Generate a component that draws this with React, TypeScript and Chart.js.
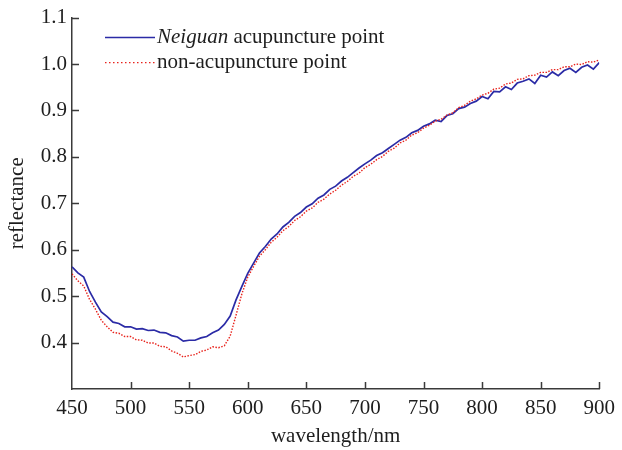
import React, { useEffect, useRef } from "react";
import { Chart, registerables } from "chart.js";

Chart.register(...registerables);

const wavelengths = [
  450, 455, 460, 465, 470, 475, 480, 485, 490, 495, 500, 505, 510, 515, 520, 525, 530, 535, 540, 545,
  550, 555, 560, 565, 570, 575, 580, 585, 590, 595, 600, 605, 610, 615, 620, 625, 630, 635, 640, 645,
  650, 655, 660, 665, 670, 675, 680, 685, 690, 695, 700, 705, 710, 715, 720, 725, 730, 735, 740, 745,
  750, 755, 760, 765, 770, 775, 780, 785, 790, 795, 800, 805, 810, 815, 820, 825, 830, 835, 840, 845,
  850, 855, 860, 865, 870, 875, 880, 885, 890, 895, 900,
];

const neiguan = [
  0.563, 0.55, 0.541, 0.51, 0.487, 0.466, 0.456, 0.444, 0.441, 0.434, 0.434, 0.429, 0.43, 0.426, 0.427, 0.422, 0.421, 0.415, 0.412, 0.403,
  0.405, 0.405, 0.41, 0.413, 0.421, 0.427, 0.439, 0.457, 0.492, 0.521, 0.549, 0.571, 0.593, 0.607, 0.623, 0.634, 0.649, 0.659, 0.672, 0.68,
  0.692, 0.699, 0.711, 0.718, 0.73, 0.737, 0.748, 0.756, 0.766, 0.776, 0.785, 0.793, 0.803, 0.809, 0.818, 0.827, 0.836, 0.842, 0.852, 0.857,
  0.866, 0.871, 0.879, 0.876, 0.889, 0.893, 0.904, 0.907, 0.915, 0.92, 0.93, 0.925, 0.941, 0.94, 0.951, 0.945, 0.959, 0.963, 0.968, 0.958,
  0.976, 0.972, 0.983, 0.975, 0.986, 0.991, 0.982, 0.993, 0.998, 0.989, 1.003,
];

const nonAcupoint = [
  0.548, 0.533, 0.522, 0.493, 0.472, 0.448, 0.434, 0.422, 0.42, 0.413, 0.413, 0.406, 0.405, 0.399, 0.399, 0.392, 0.391, 0.382, 0.377, 0.369,
  0.372, 0.374, 0.381, 0.384, 0.391, 0.389, 0.393, 0.414, 0.459, 0.505, 0.541, 0.564, 0.586, 0.6, 0.616, 0.627, 0.641, 0.65, 0.663, 0.671,
  0.683, 0.69, 0.702, 0.709, 0.72, 0.728, 0.739, 0.747, 0.758, 0.765, 0.777, 0.784, 0.794, 0.801, 0.812, 0.819, 0.83, 0.836, 0.847, 0.852,
  0.862, 0.868, 0.877, 0.881, 0.89, 0.895, 0.906, 0.911, 0.92, 0.925, 0.933, 0.937, 0.946, 0.948, 0.957, 0.959, 0.967, 0.968, 0.975, 0.976,
  0.982, 0.982, 0.988, 0.988, 0.994, 0.994, 1.0, 0.999, 1.005, 1.004, 1.009,
];

const xMin = 450;
const xMax = 900;
const xStep = 50;
const yMin = 0.3;
const yMax = 1.1;
const yStep = 0.1;

const BLUE = "#2b2ba6";
const RED = "#e8231c";
const AXIS = "#3a3a3a";
const TEXT = "#1e1e1e";
const FONT = "'Liberation Serif', 'Times New Roman', serif";
const FS = 21;

const inwardTicks = {
  id: "inwardTicks",
  afterDraw(chart: any) {
    const { ctx, chartArea, scales } = chart;
    const len = 7;
    ctx.save();
    ctx.strokeStyle = AXIS;
    ctx.lineWidth = 1.5;
    ctx.beginPath();
    scales.y.ticks.forEach((t: any) => {
      if (t.value <= yMin + 1e-9) return;
      const py = Math.round(scales.y.getPixelForValue(t.value)) + 0.5;
      ctx.moveTo(chartArea.left, py);
      ctx.lineTo(chartArea.left + len, py);
    });
    scales.x.ticks.forEach((t: any) => {
      if (t.value <= xMin) return;
      const px = Math.round(scales.x.getPixelForValue(t.value)) + 0.5;
      ctx.moveTo(px, chartArea.bottom);
      ctx.lineTo(px, chartArea.bottom - len);
    });
    ctx.stroke();
    ctx.restore();
  },
};

const customLegend = {
  id: "customLegend",
  afterDraw(chart: any) {
    const { ctx, chartArea } = chart;
    const x0 = chartArea.left + 33;
    const x1 = x0 + 50;
    const y1 = chartArea.top + 20;
    const y2 = chartArea.top + 45;
    ctx.save();
    ctx.lineWidth = 1.5;
    ctx.strokeStyle = BLUE;
    ctx.beginPath();
    ctx.moveTo(x0, y1);
    ctx.lineTo(x1, y1);
    ctx.stroke();
    ctx.strokeStyle = RED;
    ctx.lineWidth = 1.2;
    ctx.setLineDash([1.5, 2.5]);
    ctx.beginPath();
    ctx.moveTo(x0, y2);
    ctx.lineTo(x1, y2);
    ctx.stroke();
    ctx.setLineDash([]);
    ctx.fillStyle = TEXT;
    ctx.textBaseline = "middle";
    ctx.textAlign = "left";
    ctx.font = `italic ${FS}px ${FONT}`;
    const it = "Neiguan";
    ctx.fillText(it, x1 + 2, y1);
    const w = ctx.measureText(it).width;
    ctx.font = `${FS}px ${FONT}`;
    ctx.fillText(" acupuncture point", x1 + 2 + w, y1);
    ctx.fillText("non-acupuncture point", x1 + 2, y2);
    ctx.restore();
  },
};

export default function App() {
  const ref = useRef<HTMLCanvasElement | null>(null);

  useEffect(() => {
    document.body.style.margin = "0";
    if (!ref.current) return;
    const chart = new Chart(ref.current, {
      type: "line",
      data: {
        datasets: [
          {
            label: "Neiguan acupuncture point",
            data: wavelengths.map((w, i) => ({ x: w, y: neiguan[i] })),
            borderColor: BLUE,
            borderWidth: 1.7,
            pointRadius: 0,
            tension: 0,
            order: 1,
          },
          {
            label: "non-acupuncture point",
            data: wavelengths.map((w, i) => ({ x: w, y: nonAcupoint[i] })),
            borderColor: RED,
            borderWidth: 1.4,
            borderDash: [1.5, 1.5],
            pointRadius: 0,
            tension: 0,
            order: 0,
          },
        ],
      },
      options: {
        animation: false,
        responsive: true,
        maintainAspectRatio: false,
        layout: { padding: { top: 16, right: 19, left: 0, bottom: 0 } },
        plugins: { legend: { display: false }, tooltip: { enabled: false } },
        scales: {
          x: {
            type: "linear",
            min: xMin,
            max: xMax,
            afterFit: (s: any) => {
              s.height = 61;
            },
            ticks: {
              stepSize: xStep,
              padding: 7,
              color: TEXT,
              font: { family: FONT, size: FS },
              maxRotation: 0,
            },
            grid: { display: true, drawOnChartArea: false, drawTicks: false },
            border: { display: true, color: AXIS, width: 1.5 },
            title: {
              display: true,
              text: "wavelength/nm",
              color: TEXT,
              font: { family: FONT, size: FS },
              padding: { top: 0, bottom: 1 },
            },
          },
          y: {
            type: "linear",
            min: yMin,
            max: yMax,
            afterFit: (s: any) => {
              s.width = 72;
            },
            ticks: {
              stepSize: yStep,
              padding: 5,
              color: TEXT,
              font: { family: FONT, size: FS },
              callback: (v: any) => (Math.abs(Number(v) - yMin) < 1e-9 ? "" : Number(v).toFixed(1)),
            },
            grid: { display: true, drawOnChartArea: false, drawTicks: false },
            border: { display: true, color: AXIS, width: 1.5 },
            title: {
              display: true,
              text: "reflectance",
              color: TEXT,
              font: { family: FONT, size: FS },
              padding: { top: 5, bottom: 0 },
            },
          },
        },
      },
      plugins: [inwardTicks, customLegend],
    });
    return () => chart.destroy();
  }, []);

  return (
    <div style={{ width: 622, height: 450, position: "relative", background: "#fff" }}>
      <canvas ref={ref} />
    </div>
  );
}
